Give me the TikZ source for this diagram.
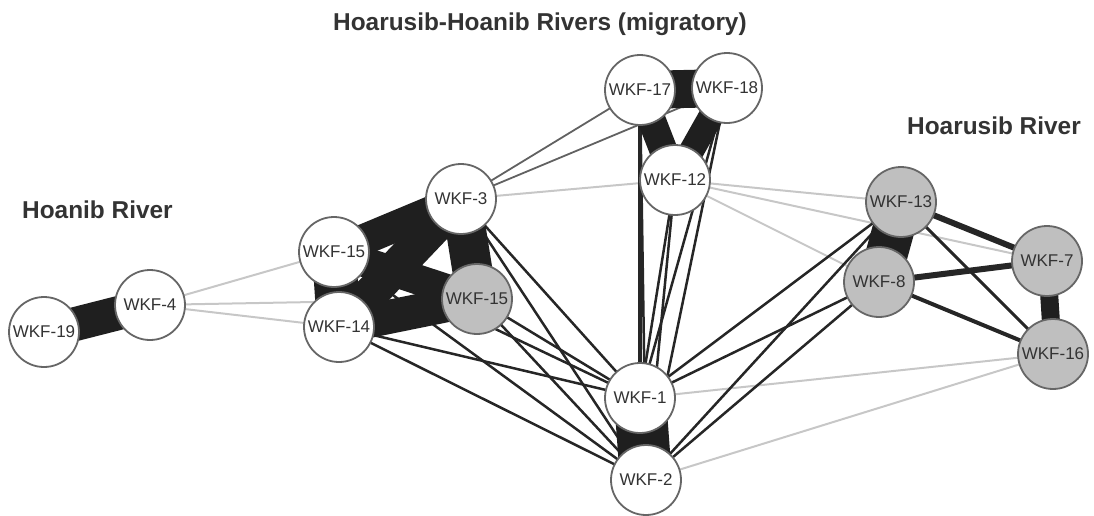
\documentclass[tikz,border=0pt]{standalone}
\usepackage{fontspec}
\setmainfont{Liberation Sans}
\pgfdeclarelayer{bg}
\pgfsetlayers{bg,main}
\begin{document}
\begin{tikzpicture}[x=1pt,y=-1pt,
  wk/.style={circle, draw=black!60, line width=1.8pt, fill=white, minimum size=70pt, inner sep=0pt, font=\fontsize{17}{17}\selectfont, text=black!80},
  wkg/.style={wk, fill=black!25},
  lite/.style={draw=black!22, line width=2pt},
  mid/.style={draw=black!62, line width=1.8pt},
  dark/.style={draw=black!85, line width=2.5pt},
  heavy/.style={draw=black!88, line cap=butt},
  ttl/.style={font=\fontsize{24.4}{24.4}\selectfont\bfseries, text=black!80, anchor=base west, inner sep=0pt}]
\useasboundingbox (0,0) rectangle (1094,515);
% nodes
\node[wk]  (n19) at (44,332)   {WKF-19};
\node[wk]  (n4)  at (150,305)  {WKF-4};
\node[wk]  (n15) at (334,252)  {WKF-15};
\node[wk]  (n14) at (339,327)  {WKF-14};
\node[wk]  (n3)  at (461,199)  {WKF-3};
\node[wkg] (n11) at (477,299)  {WKF-15};
\node[wk]  (n17) at (640,90)   {WKF-17};
\node[wk]  (n18) at (727,88)   {WKF-18};
\node[wk]  (n12) at (675,180)  {WKF-12};
\node[wk]  (n1)  at (640,398)  {WKF-1};
\node[wk]  (n2)  at (646,480)  {WKF-2};
\node[wkg] (n13) at (901,202)  {WKF-13};
\node[wkg] (n8)  at (879,282)  {WKF-8};
\node[wkg] (n7)  at (1047,261) {WKF-7};
\node[wkg] (n16) at (1053,354) {WKF-16};
% titles
\node[ttl] (t1) at (333,30)  {Hoarusib-Hoanib Rivers (migratory)};
\node[ttl] (t2) at (22,218)  {Hoanib River};
\node[ttl] (t3) at (907,134) {Hoarusib River};
\begin{pgfonlayer}{bg}
% light edges
\foreach \a/\b in {n4/n15,n4/n11,n4/n14,n3/n12,n12/n13,n12/n7,n12/n8,n1/n16,n2/n16}
  \draw[lite] (\a.center) -- (\b.center);
% medium edges
\foreach \a/\b in {n3/n17,n3/n18}
  \draw[mid] (\a.center) -- (\b.center);
% dark edges
\foreach \a/\b in {n3/n1,n3/n2,n11/n1,n11/n2,n14/n1,n14/n2,n15/n1,n15/n2,n1/n13,n1/n8,n2/n13,n2/n8,n17/n2,n18/n1,n18/n2,n12/n1,n12/n2}
  \draw[dark] (\a.center) -- (\b.center);
\draw[dark, line width=4pt] (n17.center) -- (n1.center);
\draw[dark, line width=3pt] (n13.center) -- (n16.center);
\draw[dark, line width=4pt] (n8.center) -- (n16.center);
\draw[dark, line width=6pt] (n13.center) -- (n7.center);
\draw[dark, line width=6pt] (n8.center) -- (n7.center);
% heavy edges
\draw[heavy, line width=34pt] (n19.center) -- (n4.center);
\draw[heavy, line width=44pt] (n15.center) -- (n14.center);
\draw[heavy, line width=31pt] (n15.center) -- (n3.center);
\draw[heavy, line width=34pt] (n14.center) -- (n11.center);
\draw[heavy, line width=40pt] (n3.center) -- (n11.center);
\draw[heavy, line width=35pt] (n14.center) -- (n3.center);
\draw[heavy, line width=30pt] (n15.center) -- (n11.center);
\draw[heavy, line width=38pt] (n17.center) -- (n18.center);
\draw[heavy, line width=28pt] (n17.center) -- (n12.center);
\draw[heavy, line width=25pt] (n18.center) -- (n12.center);
\draw[heavy, line width=52pt] (n1.center) -- (n2.center);
\draw[heavy, line width=42pt] (n13.center) -- (n8.center);
\draw[heavy, line width=18pt] (n7.center) -- (n16.center);
\end{pgfonlayer}
\end{tikzpicture}
\end{document}
